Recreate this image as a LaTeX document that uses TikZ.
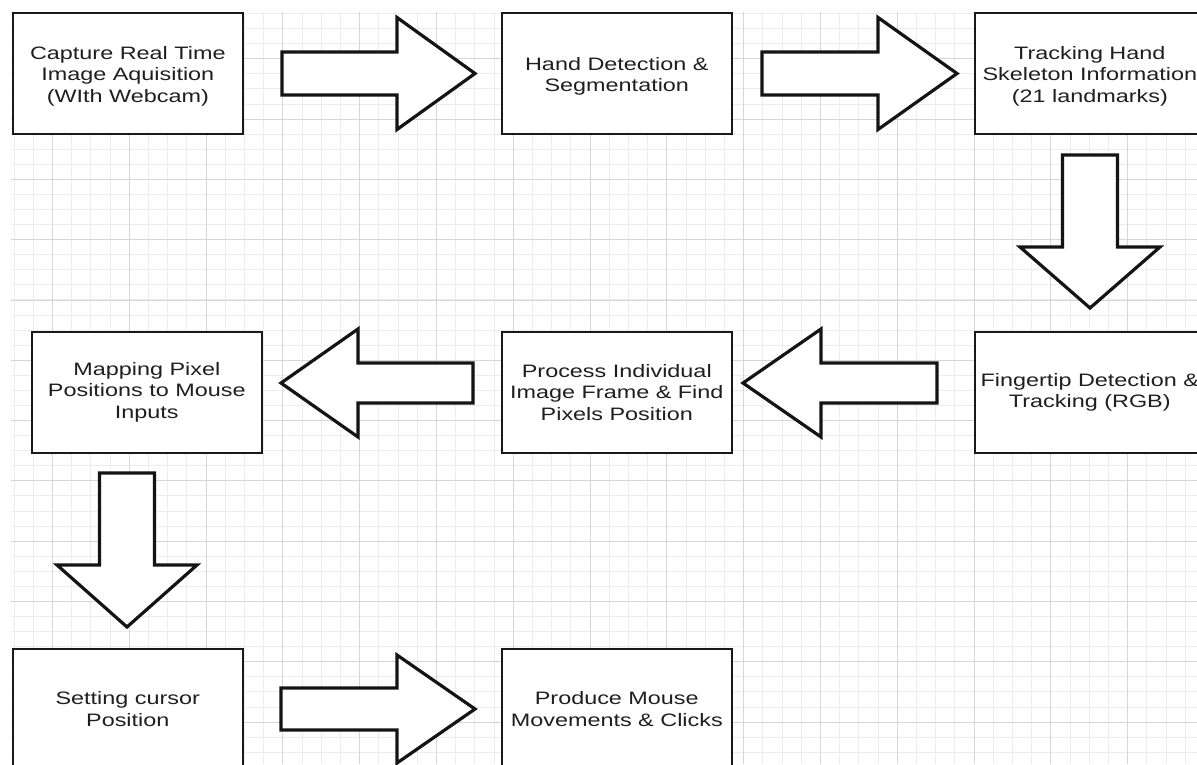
\documentclass[tikz,border=0pt]{standalone}
\usepackage{fontspec}
\setmainfont[FakeStretch=1.3]{Liberation Sans}
\newcommand\HArrow[6]{% x0, xbase, xtip, yc, shaft half, head half
  \draw[blk] (#1,{#4-#5}) -- (#2,{#4-#5}) -- (#2,{#4-#6}) -- (#3,#4) -- (#2,{#4+#6}) -- (#2,{#4+#5}) -- (#1,{#4+#5}) -- cycle;}
\newcommand\VArrow[6]{% xc, y0, ybase, ytip, shaft half, head half
  \draw[blk] ({#1-#5},#2) -- ({#1-#5},#3) -- ({#1-#6},#3) -- (#1,#4) -- ({#1+#6},#3) -- ({#1+#5},#3) -- ({#1+#5},#2) -- cycle;}
\begin{document}
\begin{tikzpicture}[x=1pt,y=-1pt,
  gridminor/.style={draw=black!7, line width=1pt},
  gridmajor/.style={draw=black!16, line width=1pt},
  boxtext/.style={align=center, inner sep=0pt, text=black!88, font=\fontsize{18}{21.5}\selectfont},
  box/.style={boxtext, draw=black!90, line width=1.6pt, fill=white, minimum width=230pt, minimum height=121pt,
    anchor=north west},
  topbox/.style={box, label={[boxtext,yshift=-3pt]center:{#1}}},
  blk/.style={draw=black!92, line width=3.2pt, fill=white, line join=miter}]
\useasboundingbox (0,0) rectangle (1197,764);
\fill[white] (0,0) rectangle (1197,764);
\begin{scope}
  \clip (11,12) rectangle (1197,764);
  \foreach \k in {0,...,62} \draw[gridminor] ({round(13.6+\k*19.2)+0.5},12) -- ++(0,752);
  \foreach \k in {1,...,51} \draw[gridminor] (11,{round(-2+\k*15.075)+0.5}) -- ++(1186,0);
  \foreach \k in {-1,...,15} \draw[gridmajor] ({round(52+\k*76.8)+0.5},12) -- ++(0,752);
  \foreach \k in {1,...,12} \draw[gridmajor] (11,{round(-2+\k*60.3)+0.5}) -- ++(1186,0);
\end{scope}
% boxes
\node[topbox={Capture Real Time\\Image Aquisition\\(WIth Webcam)}] (b1) at (12,12) {};
\node[topbox={Hand Detection \&\\Segmentation}] (b2) at (501,12) {};
\node[topbox={Tracking Hand\\Skeleton Information\\(21 landmarks)}] (b3) at (974,12) {};
\node[box] (b4) at (31,331) {Mapping Pixel\\Positions to Mouse\\Inputs};
\node[box] (b5) at (501,331) {Process Individual\\Image Frame \& Find\\Pixels Position};
\node[box] (b6) at (974,331) {Fingertip Detection \&\\Tracking (RGB)};
\node[box] (b7) at (12,648) {Setting cursor\\Position};
\node[box] (b8) at (501,648) {Produce Mouse\\Movements \& Clicks};
% block arrows
\HArrow{282}{397}{475}{73.5}{21.5}{56}
\HArrow{762}{878}{957}{73.5}{21.5}{56}
\VArrow{1090}{155}{247}{308}{27.5}{70}
\HArrow{937}{821}{743}{383}{20}{54}
\HArrow{473}{358}{281}{383}{20}{54}
\VArrow{127}{473}{565}{627}{27.5}{70}
\HArrow{281}{397}{475}{709}{21}{54}
\end{tikzpicture}
\end{document}
